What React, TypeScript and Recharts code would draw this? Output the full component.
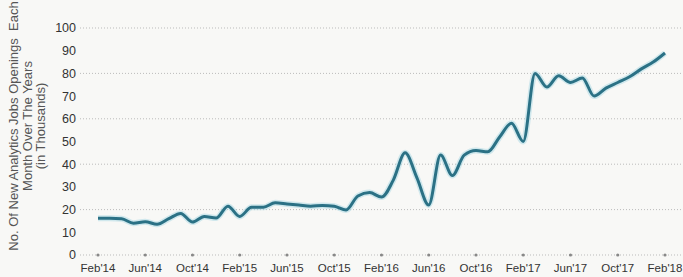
import { LineChart, Line, XAxis, YAxis, CartesianGrid } from "recharts";

const months = [
  "Feb'14", "Mar'14", "Apr'14", "May'14", "Jun'14", "Jul'14", "Aug'14", "Sep'14", "Oct'14", "Nov'14", "Dec'14", "Jan'15",
  "Feb'15", "Mar'15", "Apr'15", "May'15", "Jun'15", "Jul'15", "Aug'15", "Sep'15", "Oct'15", "Nov'15", "Dec'15", "Jan'16",
  "Feb'16", "Mar'16", "Apr'16", "May'16", "Jun'16", "Jul'16", "Aug'16", "Sep'16", "Oct'16", "Nov'16", "Dec'16", "Jan'17",
  "Feb'17", "Mar'17", "Apr'17", "May'17", "Jun'17", "Jul'17", "Aug'17", "Sep'17", "Oct'17", "Nov'17", "Dec'17", "Jan'18",
  "Feb'18",
];

const openings = [
  16.2, 16.2, 16, 14, 14.7, 13.5, 16, 18.3, 14.5, 17, 16.3, 21.5,
  17, 21, 21, 23, 22.5, 22, 21.5, 21.8, 21.5, 19.8, 26, 27.5,
  25.5, 33, 45, 34, 22, 44, 35, 44, 46, 45.5, 52, 58,
  50, 80, 74, 79, 76, 78, 70, 73.5, 76, 78.5, 82, 85,
  89,
];

const yTicks = [0, 10, 20, 30, 40, 50, 60, 70, 80, 90, 100];

const data = months.map((month, i) => ({ month, value: openings[i] }));

const FONT = "'Liberation Sans Narrow', 'Liberation Sans', Arial, sans-serif";

const XTick = (props: any) => {
  const { x, y, payload } = props;
  return (
    <g>
      <circle cx={x} cy={y} r={1.6} fill="#888" />
      <text x={x} y={y + 17} textAnchor="middle" fontSize={11.5} fill="#333" fontFamily={FONT}>
        {payload.value}
      </text>
    </g>
  );
};

const YTitle = () => (
  <text
    transform="translate(0,126) rotate(-90)"
    textAnchor="middle"
    fontSize={13}
    fill="#555"
    fontFamily={FONT}
  >
    <tspan x={0} y={18}>{"No. Of New Analytics Jobs Openings\u00a0 Each"}</tspan>
    <tspan x={0} y={32}>Month Over The Years</tspan>
    <tspan x={0} y={45}>(in Thousands)</tspan>
  </text>
);

const App = () => {
  return (
    <div style={{ position: "absolute", left: 0, top: 0, width: 683, height: 277, background: "#f8f8f6" }}>
      <LineChart width={683} height={277} data={data} margin={{ top: 28, right: 0, bottom: 0, left: 0 }}>
        <CartesianGrid vertical={false} stroke="#bbb" strokeDasharray="1 2" />
        <XAxis
          dataKey="month"
          interval={3}
          axisLine={false}
          tickLine={false}
          tickSize={0}
          tickMargin={0}
          height={22}
          padding={{ left: 18, right: 18 }}
          tick={<XTick />}
        />
        <YAxis
          domain={[0, 100]}
          ticks={yTicks}
          width={80}
          axisLine={false}
          tickLine={false}
          tickSize={0}
          tickMargin={4}
          tick={{ fontSize: 12.5, fill: "#333", fontFamily: FONT }}
          label={<YTitle />}
        />
        <Line
          type="monotone"
          dataKey="value"
          stroke="#a8d8e4"
          strokeOpacity={0.5}
          strokeWidth={6}
          dot={false}
          isAnimationActive={false}
        />
        <Line
          type="monotone"
          dataKey="value"
          stroke="#2b7185"
          strokeWidth={3}
          dot={false}
          isAnimationActive={false}
        />
      </LineChart>
    </div>
  );
};

export default App;
